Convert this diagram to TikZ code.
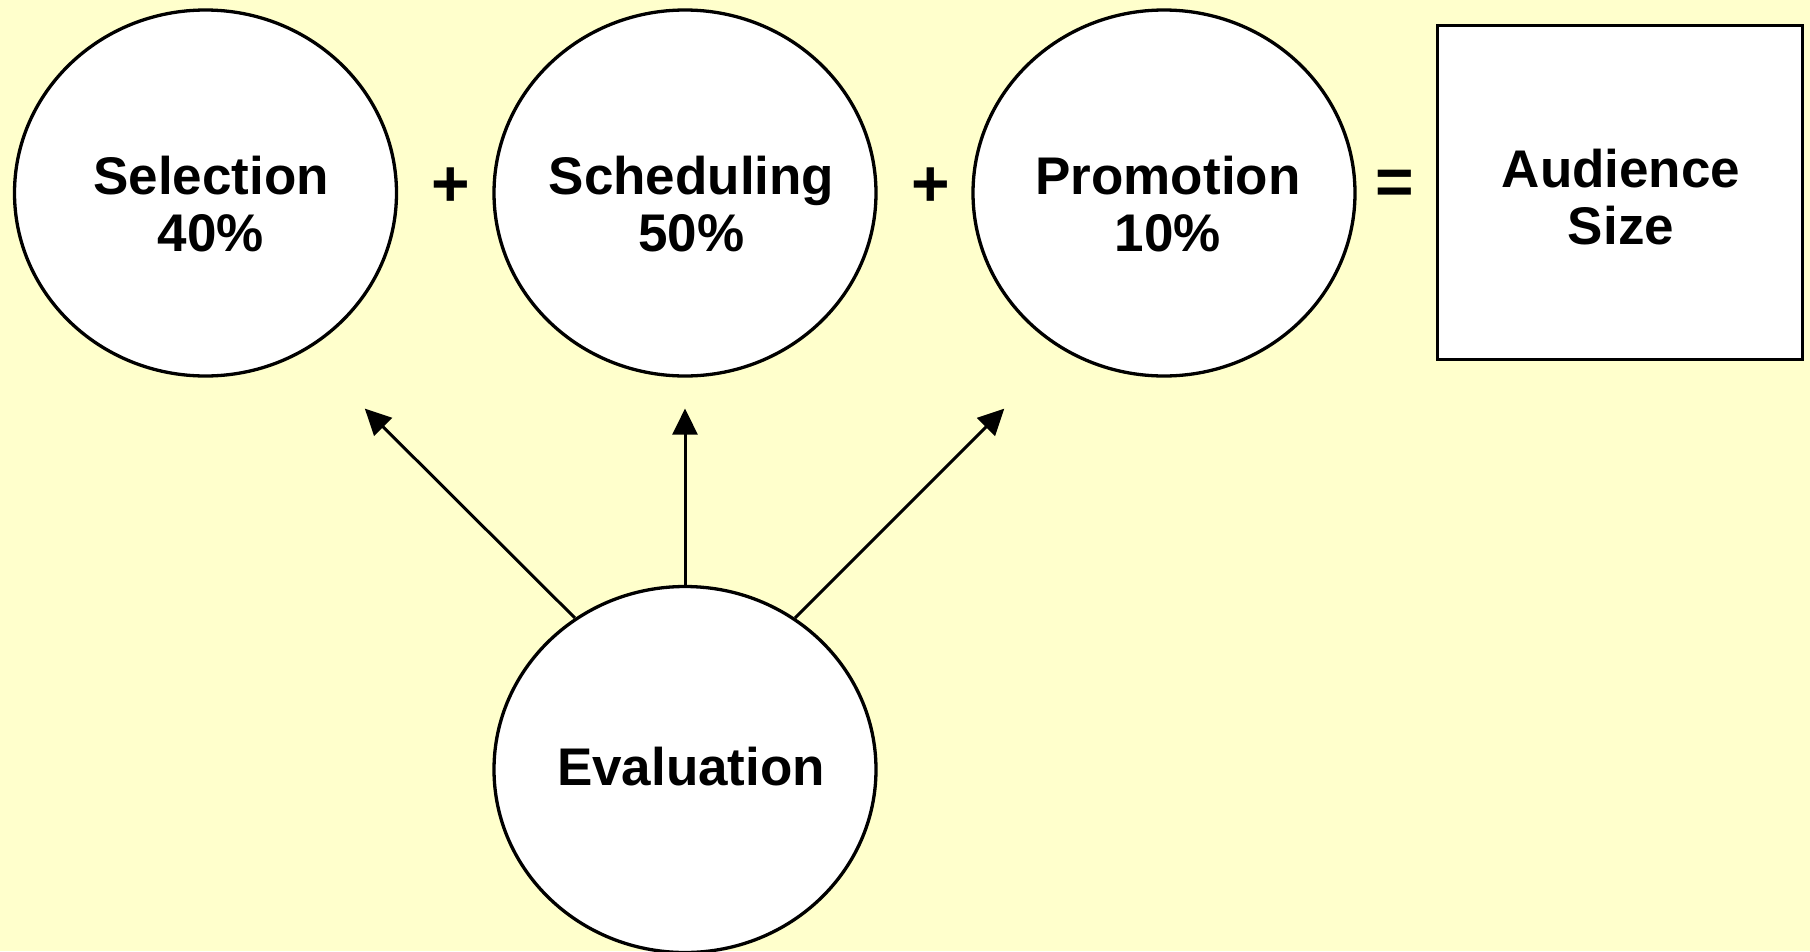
\documentclass[tikz,border=0pt]{standalone}
\usepackage{fontspec}
\setmainfont{Liberation Sans}
\usetikzlibrary{shapes.geometric,arrows.meta}
\definecolor{bgyellow}{HTML}{FFFFCC}
\begin{document}
\begin{tikzpicture}[x=1pt,y=-1pt,
  oval/.style={ellipse,draw=black,fill=white,line width=3.3pt,
    minimum width=382pt,minimum height=366pt,inner sep=0pt},
  boxnode/.style={rectangle,draw=black,fill=white,line width=3.3pt,
    minimum width=365pt,minimum height=334pt,inner sep=0pt},
  lbl/.style={align=center,inner sep=0pt,font=\bfseries\fontsize{53}{57}\selectfont},
  opsym/.style={inner sep=0pt,font=\bfseries\fontsize{66}{70}\selectfont},
  arr/.style={line width=3pt,-{Triangle[width=25pt,length=26pt]}}]
\useasboundingbox (0,0) rectangle (1810,951);
\fill[bgyellow] (0,0) rectangle (1810,951);

\node[oval] (sel) at (205.5,193) {};
\node[oval] (sch) at (685,193) {};
\node[oval] (pro) at (1164,193) {};
\node[oval] (eva) at (685,769.5) {};
\node[boxnode] (aud) at (1620,192.5) {};

\node[lbl] (selt) at (211,204) {Selection\\40\%};
\node[lbl] (scht) at (691.5,204) {Scheduling\\50\%};
\node[lbl] (prot) at (1168,204) {Promotion\\10\%};
\node[lbl] (evat) at (691,767) {Evaluation};
\node[lbl] (audt) at (1621,197.5) {Audience\\Size};

\node[opsym] (plus1) at (450.5,187.5) {+};
\node[opsym] (plus2) at (930.5,187.5) {+};
\node[opsym] (eq) at (1394.5,187.5) {=};

\coordinate (t1) at (364.8,408.6);
\coordinate (t2) at (685,408.6);
\coordinate (t3) at (1004.3,408.6);
\draw[arr] (eva.126) -- (t1);
\draw[arr] (eva.north) -- (t2);
\draw[arr] (eva.54) -- (t3);
\end{tikzpicture}
\end{document}
